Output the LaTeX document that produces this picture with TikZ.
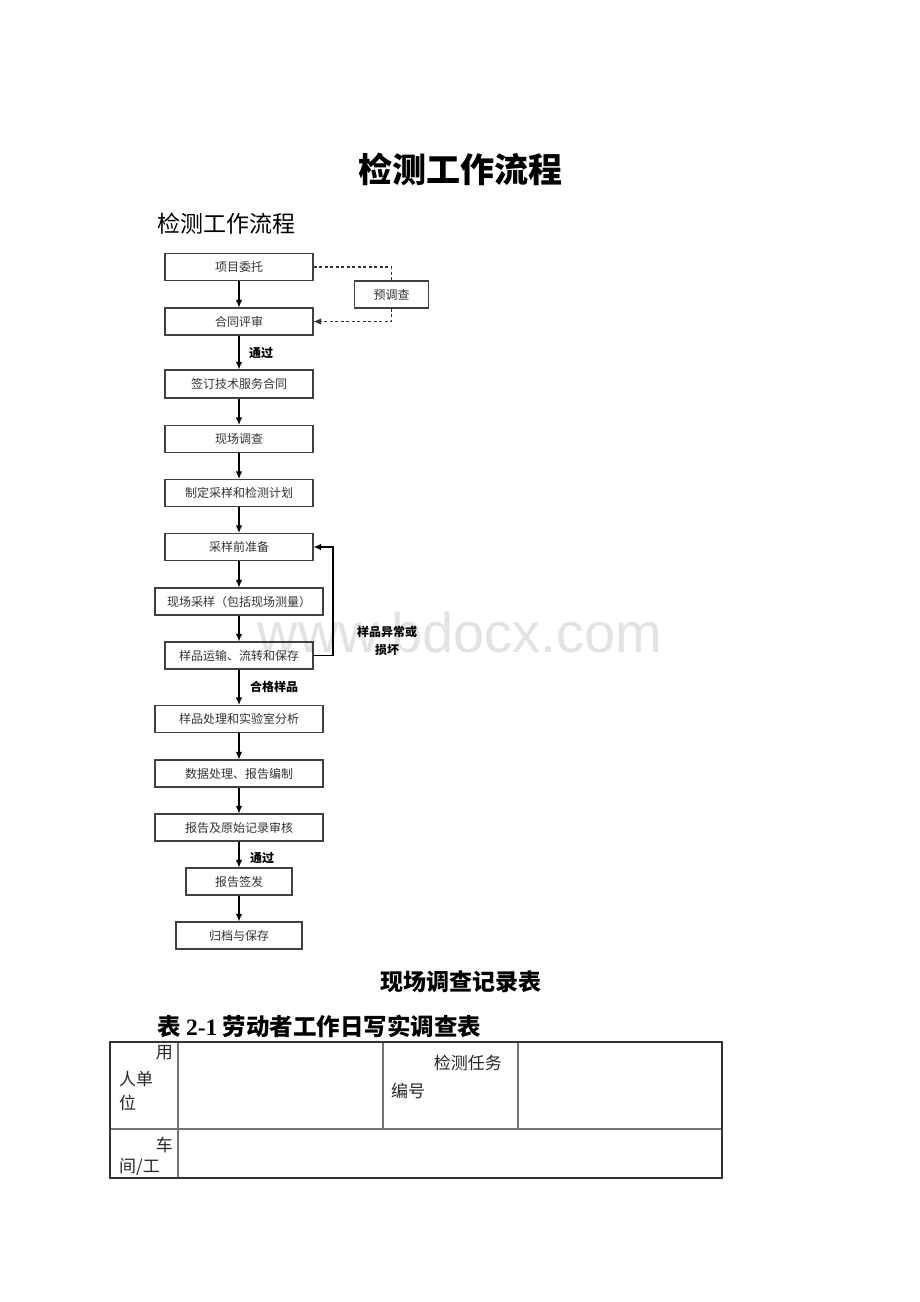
\documentclass[tikz,border=0pt]{standalone}
\usepackage{fontspec}
\setmainfont{Liberation Serif}
\newfontfamily\cjk{Noto Sans CJK SC}
\newfontfamily\wmfont{Liberation Sans}
\usetikzlibrary{arrows.meta}
\begin{document}
\begin{tikzpicture}[x=1pt,y=-1pt,
  box/.style={draw=black!75, line width=1.1pt, minimum height=27pt, inner sep=0pt,
    font=\cjk\fontsize{12}{14}\selectfont, text=black!80},
  arr/.style={-{Latex[length=7.5pt,width=6.5pt]}, line width=1.2pt, draw=black},
  dsh/.style={-{Latex[length=7.5pt,width=6.5pt]}, line width=1.1pt, draw=black!80, dash pattern=on 3pt off 2.5pt},
  lab/.style={font=\cjk\bfseries\fontsize{12}{18}\selectfont, inner sep=0pt, align=center},
  cell/.style={font=\cjk\fontsize{17}{20}\selectfont, inner sep=0pt, text=black!85},
  outer/.style={draw=black!80, line width=1.2pt},
  inner/.style={draw=black!55, line width=1.2pt}
]
\useasboundingbox[fill=white] (0,0) rectangle (920,1302);

% watermark
\node[font=\wmfont\fontsize{56}{60}\selectfont, text=black!11, anchor=base, inner sep=0pt] (wm) at (460,652) {www.bdocx.com};

% titles
\node[font=\cjk\bfseries\fontsize{34}{40}\selectfont, inner sep=0pt] (title) at (460,169) {检测工作流程};
\node[font=\cjk\fontsize{23}{26}\selectfont, anchor=west, inner sep=0pt] (sub) at (157,224) {检测工作流程};

% flowchart boxes
\node[box, minimum width=148pt] (b1) at (239,267) {项目委托};
\node[box, minimum width=74pt] (pre) at (391.5,294.5) {预调查};
\node[box, minimum width=148pt] (b2) at (239,321.5) {合同评审};
\node[box, minimum width=148pt, minimum height=28pt] (b3) at (239,384) {签订技术服务合同};
\node[box, minimum width=148pt] (b4) at (239,439) {现场调查};
\node[box, minimum width=148pt] (b5) at (239,493) {制定采样和检测计划};
\node[box, minimum width=148pt] (b6) at (239,547) {采样前准备};
\node[box, minimum width=168pt] (b7) at (239,601.5) {现场采样（包括现场测量）};
\node[box, minimum width=148pt] (b8) at (239,655.5) {样品运输、流转和保存};
\node[box, minimum width=168pt] (b9) at (239,719) {样品处理和实验室分析};
\node[box, minimum width=168pt] (b10) at (239,773.5) {数据处理、报告编制};
\node[box, minimum width=168pt] (b11) at (239,827.5) {报告及原始记录审核};
\node[box, minimum width=106pt] (b12) at (239,881.5) {报告签发};
\node[box, minimum width=126pt] (b13) at (239,935.5) {归档与保存};

% labels
\node[lab, anchor=west] (l1) at (249,353) {通过};
\node[lab, anchor=west] (l2) at (250,687) {合格样品};
\node[lab, anchor=west] (l3) at (250,858) {通过};
\node[lab] (l4) at (387,641) {样品异常或\\损坏};

% arrows
\draw[arr] (b1) -- (b2);
\draw[arr] (b2) -- (b3);
\draw[arr] (b3) -- (b4);
\draw[arr] (b4) -- (b5);
\draw[arr] (b5) -- (b6);
\draw[arr] (b6) -- (b7);
\draw[arr] (b7) -- (b8);
\draw[arr] (b8) -- (b9);
\draw[arr] (b9) -- (b10);
\draw[arr] (b10) -- (b11);
\draw[arr] (b11) -- (b12);
\draw[arr] (b12) -- (b13);
\coordinate (loop) at (333,655.5);
\draw[arr] (b8.east) -- (loop) |- (b6.east);
\draw[line width=1.1pt, draw=black!80, dash pattern=on 3pt off 2.5pt] (b1.east) -| (pre.north);
\draw[dsh] (pre.south) |- (b2.east);

% table heading
\node[font=\cjk\bfseries\fontsize{23}{26}\selectfont, inner sep=0pt] (t2) at (461,982) {现场调查记录表};
\node[font=\cjk\bfseries\fontsize{23.5}{26}\selectfont, anchor=west, inner sep=0pt] (t3) at (157,1026) {表 {\rmfamily\bfseries 2-1} 劳动者工作日写实调查表};

% table
\coordinate (tl) at (110,1042);
\coordinate (br) at (722,1178);
\draw[inner] (178,1042) -- (178,1178);
\draw[inner] (383,1042) -- (383,1129);
\draw[inner] (518,1042) -- (518,1129);
\draw[inner] (110,1129) -- (722,1129);
\draw[outer] (tl) rectangle (br);

\node[cell, anchor=east] (c1) at (173,1053) {用};
\node[cell, anchor=west] (c2) at (119,1079) {人单};
\node[cell, anchor=west] (c3) at (119,1103) {位};
\node[cell, anchor=east] (c4) at (502,1063) {检测任务};
\node[cell, anchor=west] (c5) at (391,1091) {编号};
\node[cell, anchor=east] (c6) at (173,1145) {车};
\node[cell, anchor=west] (c7) at (119,1167) {间/工};
\end{tikzpicture}
\end{document}
